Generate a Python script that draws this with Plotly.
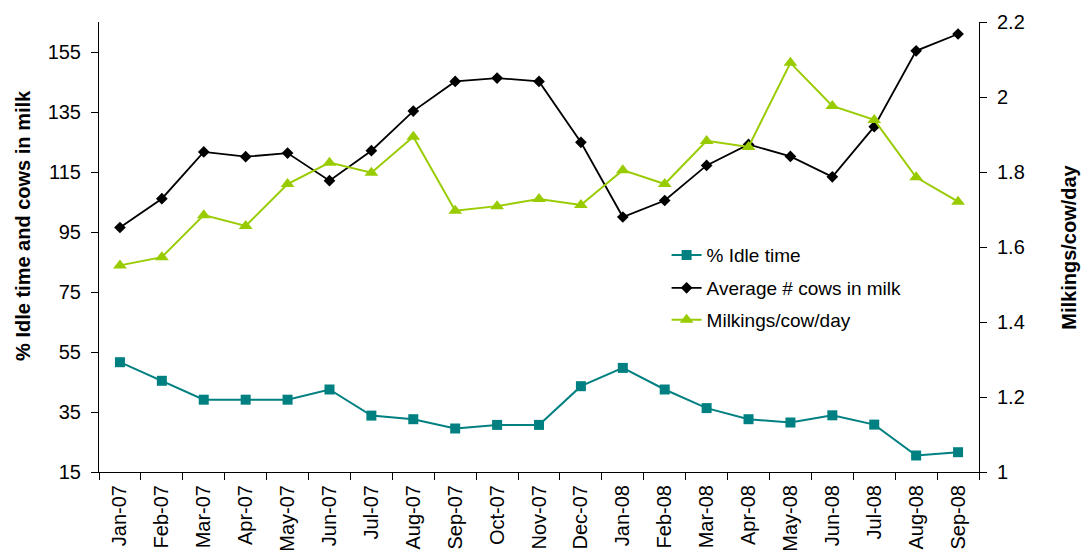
import plotly.graph_objects as go

# Monthly herd performance, Jan-07 to Sep-08
months = ["Jan-07", "Feb-07", "Mar-07", "Apr-07", "May-07", "Jun-07", "Jul-07",
          "Aug-07", "Sep-07", "Oct-07", "Nov-07", "Dec-07", "Jan-08", "Feb-08",
          "Mar-08", "Apr-08", "May-08", "Jun-08", "Jul-08", "Aug-08", "Sep-08"]

idle_time = [51.6, 45.4, 39.1, 39.1, 39.1, 42.5, 33.8, 32.6, 29.5, 30.7, 30.7,
             43.6, 49.7, 42.5, 36.3, 32.6, 31.5, 33.9, 30.8, 20.5, 21.6]

cows_in_milk = [96.5, 106.1, 121.7, 120.1, 121.3, 112.1, 122.1, 135.3, 145.2,
                146.3, 145.2, 124.9, 100.0, 105.5, 117.2, 124.2, 120.2, 113.4,
                130.1, 155.4, 161.0]

milkings_per_cow = [1.551, 1.573, 1.685, 1.656, 1.768, 1.825, 1.798, 1.894,
                    1.697, 1.709, 1.728, 1.712, 1.805, 1.768, 1.883, 1.867,
                    2.091, 1.976, 1.939, 1.786, 1.721]

left_ticks = [15, 35, 55, 75, 95, 115, 135, 155]
right_ticks = [1, 1.2, 1.4, 1.6, 1.8, 2, 2.2]

TEAL = "#008080"
GREEN = "#99CC00"
FONT = "Liberation Sans, Arial, sans-serif"

fig = go.Figure()

fig.add_trace(go.Scatter(
    x=months, y=idle_time, name="% Idle time", mode="lines+markers",
    line=dict(color=TEAL, width=2),
    marker=dict(symbol="square", size=10, color=TEAL),
    yaxis="y", legend="legend"))

fig.add_trace(go.Scatter(
    x=months, y=cows_in_milk, name="Average # cows in milk", mode="lines+markers",
    line=dict(color="black", width=1.8),
    marker=dict(symbol="diamond", size=9, color="black"),
    yaxis="y", legend="legend2"))

fig.add_trace(go.Scatter(
    x=months, y=milkings_per_cow, name="Milkings/cow/day", mode="lines+markers",
    line=dict(color=GREEN, width=2),
    marker=dict(symbol="triangle-up", size=12, color=GREEN),
    yaxis="y2", legend="legend3"))

tick_font = dict(family=FONT, size=20, color="black")
left_range = [15, 165]
right_range = [1, 2.2]

legend_common = dict(
    x=0.645, xanchor="left", yanchor="middle",
    bgcolor="rgba(0,0,0,0)", borderwidth=0,
    font=dict(family=FONT, size=19, color="black"),
)

fig.update_layout(
    width=1081, height=559,
    margin=dict(l=99, r=102, t=22, b=87),
    paper_bgcolor="white", plot_bgcolor="white",
    font=dict(family=FONT, color="black"),
    showlegend=True,
    legend=dict(y=0.482, **legend_common),
    legend2=dict(y=0.409, **legend_common),
    legend3=dict(y=0.338, **legend_common),
    xaxis=dict(
        type="category", range=[-0.5, 20.5], automargin=False,
        showline=True, linecolor="black", linewidth=1,
        ticks="outside", tickson="boundaries", ticklen=7, tickcolor="black",
        tickangle=-90, tickfont=dict(family=FONT, size=20, color="black"),
        ticklabelstandoff=4,
        showgrid=False, zeroline=False, fixedrange=True,
    ),
    # inner half of the crossing x ticks
    xaxis2=dict(
        overlaying="x", range=[-0.5, 20.5], automargin=False,
        tickvals=[i - 0.5 for i in range(len(months) + 1)],
        ticks="inside", ticklen=7, tickcolor="black",
        showticklabels=False, showline=False, showgrid=False, zeroline=False,
    ),
    yaxis=dict(
        range=left_range, tickvals=left_ticks, automargin=False,
        showline=True, linecolor="black", linewidth=1,
        ticks="outside", ticklen=7, tickcolor="black",
        tickfont=tick_font, ticklabelstandoff=6,
        showgrid=False, zeroline=False,
    ),
    yaxis2=dict(
        overlaying="y", side="right", range=right_range, tickvals=right_ticks,
        automargin=False,
        showline=True, linecolor="black", linewidth=1,
        ticks="outside", ticklen=7, tickcolor="black",
        tickfont=tick_font, ticklabelstandoff=6,
        showgrid=False, zeroline=False,
    ),
    # inner halves of the crossing y ticks
    yaxis3=dict(
        overlaying="y", side="left", range=left_range, tickvals=left_ticks,
        automargin=False,
        ticks="inside", ticklen=7, tickcolor="black",
        showticklabels=False, showline=False, showgrid=False, zeroline=False,
    ),
    yaxis4=dict(
        overlaying="y", side="right", range=right_range, tickvals=right_ticks,
        automargin=False,
        ticks="inside", ticklen=7, tickcolor="black",
        showticklabels=False, showline=False, showgrid=False, zeroline=False,
    ),
    annotations=[
        dict(text="<b>% Idle time and cows in milk</b>", textangle=-90,
             xref="paper", yref="paper", x=-0.0864, y=0.549,
             xanchor="center", yanchor="middle", showarrow=False,
             font=dict(family=FONT, size=20, color="black")),
        dict(text="<b>Milkings/cow/day</b>", textangle=-90,
             xref="paper", yref="paper", x=1.102, y=0.5,
             xanchor="center", yanchor="middle", showarrow=False,
             font=dict(family=FONT, size=20, color="black")),
    ],
)

fig.write_html("out.html")
